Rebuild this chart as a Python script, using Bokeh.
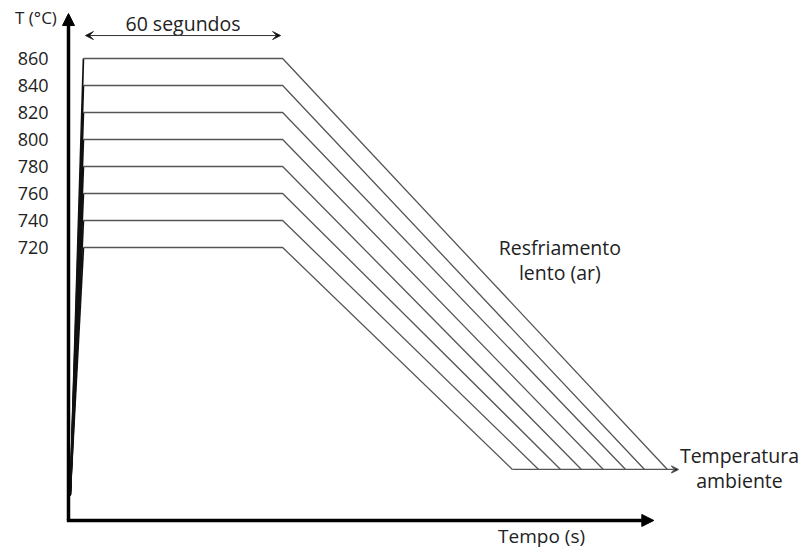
from bokeh.plotting import figure
from bokeh.models import Arrow, NormalHead, VeeHead, Range1d
from bokeh.core.properties import value
from bokeh.embed import file_html
from bokeh.resources import INLINE

# ---- data (schematic heat-treatment cycle) ----
temps = [720, 740, 760, 780, 800, 820, 840, 860]          # soak temperatures (°C)
tick_labels = ["720", "740", "760", "780", "800", "820", "840", "860"]
heat_start_time = 0.5        # s
heat_start_temp = 536        # schematic level at start of heating
soak_start = 4.5             # s
soak_end = 64.5              # s  (60 s soak)
cool_end_times = [133.7, 141.6, 148.2, 154.5, 161.1, 167.8, 173.5, 180.4]  # s
ambient_temp = 555.6         # schematic room-temperature level
ambient_arrow_end = 183.7
time_axis_end = 176.3
temp_axis_bottom = 517.8
temp_axis_top = 893.3

FONT = value("Open Sans")

p = figure(width=801, height=554, output_backend="svg", toolbar_location=None,
           x_axis_type=None, y_axis_type=None, min_border=0, title=None,
           x_range=Range1d(-20.48, 220.78), y_range=Range1d(492.59, 902.96))
p.outline_line_color = None
p.grid.visible = False
p.background_fill_color = "white"

# heating ramps
p.multi_line(xs=[[heat_start_time, soak_start] for _ in temps],
             ys=[[heat_start_temp, t] for t in temps],
             line_color="#111111", line_width=1.7)

# soak + slow cooling
p.multi_line(xs=[[soak_start, soak_end, ce] for ce in cool_end_times],
             ys=[[t, t, ambient_temp] for t in temps],
             line_color="#555555", line_width=1.3)

# ambient line with arrow
p.add_layout(Arrow(end=VeeHead(size=7, line_color="#555555", line_width=1.2),
                   x_start=cool_end_times[0], y_start=ambient_temp,
                   x_end=ambient_arrow_end, y_end=ambient_temp,
                   line_color="#555555", line_width=1.3))

# axes (arrows)
p.add_layout(Arrow(end=NormalHead(size=12, fill_color="black", line_color="black"),
                   x_start=0, y_start=temp_axis_bottom, x_end=0, y_end=temp_axis_top,
                   line_color="black", line_width=3.5))
p.add_layout(Arrow(end=NormalHead(size=12, fill_color="black", line_color="black"),
                   x_start=-0.5, y_start=temp_axis_bottom, x_end=time_axis_end, y_end=temp_axis_bottom,
                   line_color="black", line_width=3.5))

# 60 s double arrow
p.add_layout(Arrow(start=VeeHead(size=8, line_color="#333333", line_width=1),
                   end=VeeHead(size=8, line_color="#333333", line_width=1),
                   x_start=soak_start + 0.6, y_start=877, x_end=soak_end - 0.6, y_end=877,
                   line_color="#333333", line_width=1))

# tick labels
p.text(x=[-6.0] * len(temps), y=temps, text=tick_labels, text_font=FONT,
       text_font_size="18px", text_align="right", text_baseline="middle", text_color="#222222")

p.text(x=[-3.5], y=[890.5], text=["T (°C)"], text_font=FONT, text_font_size="17px",
       text_align="right", text_baseline="middle", text_color="#222222")
p.text(x=[(soak_start + soak_end) / 2], y=[886], text=["60 segundos"], text_font=FONT,
       text_font_size="19.5px", text_align="center", text_baseline="middle", text_color="#222222")
p.text(x=[148, 148], y=[720, 701.5], text=["Resfriamento", "lento (ar)"], text_font=FONT,
       text_font_size="19.5px", text_align="center", text_baseline="middle", text_color="#222222")
p.text(x=[202.1, 202.1], y=[566, 547.4], text=["Temperatura", "ambiente"], text_font=FONT,
       text_font_size="19.5px", text_align="center", text_baseline="middle", text_color="#222222")
p.text(x=[142.5], y=[506], text=["Tempo (s)"], text_font=FONT, text_font_size="19px",
       text_align="center", text_baseline="middle", text_color="#222222")

open("out.html", "w").write(file_html(p, INLINE))
